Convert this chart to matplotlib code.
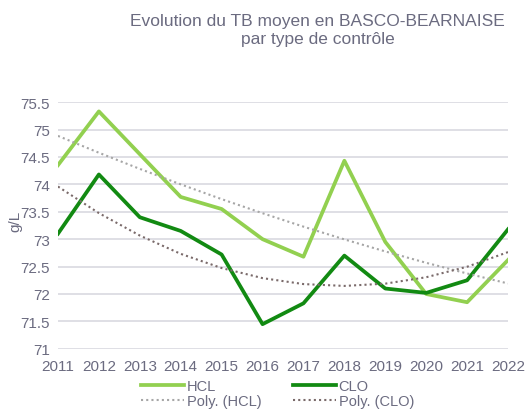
import matplotlib.pyplot as plt
import numpy as np

years = list(range(2011, 2023))
hcl = [74.35, 75.33, 74.55, 73.77, 73.55, 73.0, 72.68, 74.43, 72.95, 72.0, 71.85, 72.62]
clo = [73.1, 74.18, 73.4, 73.15, 72.72, 71.45, 71.83, 72.7, 72.1, 72.02, 72.25, 73.18]
yticks = [71, 71.5, 72, 72.5, 73, 73.5, 74, 74.5, 75, 75.5]

txt = '#6b6b80'
plt.rcParams['font.family'] = ['Liberation Sans', 'DejaVu Sans']

fig = plt.figure(figsize=(5.27, 4.14), dpi=100)
ax = fig.add_axes([0.11, 0.155, 0.854, 0.596])

x = np.array(years)
# Excel-style "Poly." trend lines (order 2)
t = x - x[0]
hcl_fit = np.polyval(np.polyfit(t, hcl, 2), t)
clo_fit = np.polyval(np.polyfit(t, clo, 2), t)

ax.plot(x, hcl, color='#92d050', lw=2.7, label='HCL')
ax.plot(x, clo, color='#128a12', lw=2.7, label='CLO')
ax.plot(x, hcl_fit, color='#a6a6a6', lw=1.5, ls=(0, (1, 1.5)), label='Poly. (HCL)')
ax.plot(x, clo_fit, color='#7a6a6a', lw=1.5, ls=(0, (1, 1.5)), label='Poly. (CLO)')

ax.set_xlim(2011, 2022)
ax.set_ylim(71, 75.5)
ax.set_xticks(years)
ax.set_yticks(yticks)
ax.set_yticklabels([f'{v:g}' for v in yticks])
ax.grid(axis='y', color='#d9d9e0', lw=1.2)
ax.set_axisbelow(True)
for s in ax.spines.values():
    s.set_visible(False)
ax.tick_params(length=0, labelsize=11, colors=txt)
ax.tick_params(axis='x', pad=7)
ax.tick_params(axis='y', pad=6)
ax.set_ylabel('g/L', color=txt, fontsize=11)
ax.yaxis.set_label_coords(-0.08, 0.52)

fig.text(0.603, 0.965, 'Evolution du TB moyen en BASCO-BEARNAISE\npar type de contrôle',
         ha='center', va='top', fontsize=12.5, color=txt, linespacing=1.2)

handles, labels = ax.get_legend_handles_labels()
order = [0, 2, 1, 3]
fig.legend([handles[i] for i in order], [labels[i] for i in order], ncol=2,
           loc='lower center', bbox_to_anchor=(0.527, -0.02), frameon=False,
           fontsize=10.5, labelcolor=txt, handlelength=2.9, handletextpad=0.2,
           columnspacing=2.2, labelspacing=0.1)

fig.savefig('out.png', dpi=100)
